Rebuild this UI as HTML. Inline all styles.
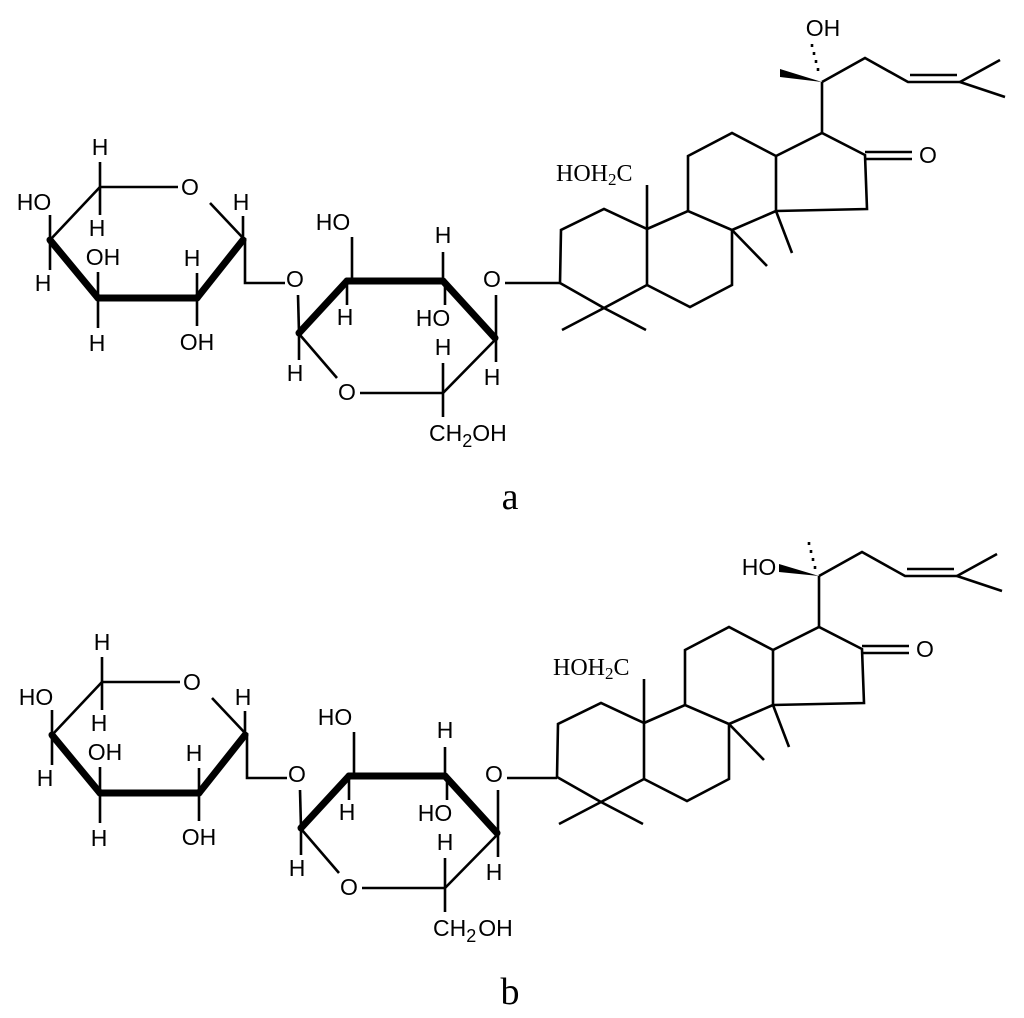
<!DOCTYPE html>
<html><head><meta charset="utf-8"><style>
html,body{margin:0;padding:0;background:#fff;}
svg{display:block}
.s{font-family:"Liberation Sans",sans-serif;font-size:23px;fill:#000;text-anchor:middle;dominant-baseline:central}
.r{font-family:"Liberation Serif",serif;fill:#000}
line,polyline{stroke:#000;stroke-width:2.6;fill:none}
.b{stroke-width:7;stroke-linecap:round}
</style></head><body>
<svg width="1024" height="1018" viewBox="0 0 1024 1018" xmlns="http://www.w3.org/2000/svg">
<g>
<line x1="100" y1="187" x2="178" y2="187"/>
<line x1="100" y1="187" x2="100" y2="162"/>
<line x1="100" y1="187" x2="100" y2="215"/>
<line x1="100" y1="187" x2="50" y2="240"/>
<line x1="50" y1="240" x2="50" y2="215"/>
<line x1="50" y1="240" x2="50" y2="270"/>
<line class="b" x1="50" y1="240" x2="98" y2="298"/>
<line class="b" x1="98" y1="298" x2="197" y2="298"/>
<line class="b" x1="197" y1="298" x2="243" y2="240"/>
<line x1="98" y1="298" x2="98" y2="272"/>
<line x1="98" y1="298" x2="98" y2="328"/>
<line x1="197" y1="298" x2="197" y2="273"/>
<line x1="197" y1="298" x2="197" y2="326"/>
<line x1="210" y1="203" x2="243" y2="238"/>
<line x1="243" y1="238" x2="243" y2="216"/>
<polyline points="245,238 245,283 285,283"/>
<line x1="298" y1="295" x2="299" y2="333"/>
<line class="b" x1="299" y1="333" x2="347" y2="281"/>
<line class="b" x1="347" y1="281" x2="443" y2="281"/>
<line class="b" x1="443" y1="281" x2="495" y2="338"/>
<line x1="352" y1="281" x2="352" y2="237"/>
<line x1="347" y1="281" x2="347" y2="305"/>
<line x1="443" y1="281" x2="443" y2="252"/>
<line x1="445" y1="281" x2="445" y2="305"/>
<line x1="496" y1="338" x2="496" y2="295"/>
<line x1="496" y1="338" x2="496" y2="362"/>
<line x1="299" y1="333" x2="299" y2="360"/>
<line x1="300" y1="335" x2="337" y2="378"/>
<line x1="360" y1="393" x2="443" y2="393"/>
<line x1="443" y1="393" x2="495" y2="340"/>
<line x1="443" y1="393" x2="443" y2="363"/>
<line x1="443" y1="393" x2="443" y2="417"/>
<line x1="505" y1="283" x2="560" y2="283"/>
<text class="s" x="100" y="147">H</text>
<text class="s" x="190" y="187">O</text>
<text class="s" x="34" y="202">HO</text>
<text class="s" x="97" y="228">H</text>
<text class="s" x="241" y="202">H</text>
<text class="s" x="103" y="257">OH</text>
<text class="s" x="192" y="258">H</text>
<text class="s" x="43" y="283">H</text>
<text class="s" x="97" y="343">H</text>
<text class="s" x="197" y="342">OH</text>
<text class="s" x="295" y="279">O</text>
<text class="s" x="333" y="222">HO</text>
<text class="s" x="443" y="235">H</text>
<text class="s" x="492" y="279">O</text>
<text class="s" x="345" y="317">H</text>
<text class="s" x="433" y="318">HO</text>
<text class="s" x="443" y="347">H</text>
<text class="s" x="295" y="373">H</text>
<text class="s" x="492" y="377">H</text>
<text class="s" x="347" y="392">O</text>
<text class="s" style="text-anchor:start;dominant-baseline:auto" x="429" y="441">CH<tspan dy="6" font-size="18">2</tspan><tspan dy="-6">OH</tspan></text>
<polyline points="560,283 561,230 604,209 647,229 647,285 604,308 560,283"/>
<line x1="604" y1="308" x2="562" y2="330"/>
<line x1="604" y1="308" x2="646" y2="330"/>
<line x1="647" y1="229" x2="647" y2="185"/>
<polyline points="647,229 688,211 732,230 732,285 690,307 647,285"/>
<polyline points="688,211 688,156 732,133 776,156 776,211 732,230"/>
<line x1="732" y1="230" x2="767" y2="266"/>
<line x1="776" y1="211" x2="792" y2="253"/>
<polyline points="776,156 822,133 865,155 867,209 776,211"/>
<line x1="865" y1="152" x2="912" y2="152"/>
<line x1="865" y1="159" x2="912" y2="159"/>
<text class="s" x="928" y="155">O</text>
<line x1="822" y1="133" x2="822" y2="82"/>
<polyline points="822,82 865,58 908,82 960,82"/>
<line x1="910" y1="75" x2="957" y2="75"/>
<line x1="960" y1="82" x2="1000" y2="60"/>
<line x1="960" y1="82" x2="1005" y2="97"/>
<text class="r" x="556" y="181" font-size="24">HOH<tspan dy="4" font-size="17">2</tspan><tspan dy="-4">C</tspan></text>
<text class="r" x="510" y="509" font-size="38" text-anchor="middle">a</text>
<polygon points="822,82 780,69 780,77" fill="#000"/>
<g stroke="#000" stroke-width="2.5">
<line x1="818" y1="68" x2="818" y2="71"/>
<line x1="816" y1="60" x2="816" y2="63"/>
<line x1="814" y1="52" x2="814" y2="55"/>
<line x1="812" y1="44" x2="812" y2="47"/>
</g>
<text class="s" x="823" y="28">OH</text>
</g>

<g transform="translate(2,495)">
<line x1="100" y1="187" x2="178" y2="187"/>
<line x1="100" y1="187" x2="100" y2="162"/>
<line x1="100" y1="187" x2="100" y2="215"/>
<line x1="100" y1="187" x2="50" y2="240"/>
<line x1="50" y1="240" x2="50" y2="215"/>
<line x1="50" y1="240" x2="50" y2="270"/>
<line class="b" x1="50" y1="240" x2="98" y2="298"/>
<line class="b" x1="98" y1="298" x2="197" y2="298"/>
<line class="b" x1="197" y1="298" x2="243" y2="240"/>
<line x1="98" y1="298" x2="98" y2="272"/>
<line x1="98" y1="298" x2="98" y2="328"/>
<line x1="197" y1="298" x2="197" y2="273"/>
<line x1="197" y1="298" x2="197" y2="326"/>
<line x1="210" y1="203" x2="243" y2="238"/>
<line x1="243" y1="238" x2="243" y2="216"/>
<polyline points="245,238 245,283 285,283"/>
<line x1="298" y1="295" x2="299" y2="333"/>
<line class="b" x1="299" y1="333" x2="347" y2="281"/>
<line class="b" x1="347" y1="281" x2="443" y2="281"/>
<line class="b" x1="443" y1="281" x2="495" y2="338"/>
<line x1="352" y1="281" x2="352" y2="237"/>
<line x1="347" y1="281" x2="347" y2="305"/>
<line x1="443" y1="281" x2="443" y2="252"/>
<line x1="445" y1="281" x2="445" y2="305"/>
<line x1="496" y1="338" x2="496" y2="295"/>
<line x1="496" y1="338" x2="496" y2="362"/>
<line x1="299" y1="333" x2="299" y2="360"/>
<line x1="300" y1="335" x2="337" y2="378"/>
<line x1="360" y1="393" x2="443" y2="393"/>
<line x1="443" y1="393" x2="495" y2="340"/>
<line x1="443" y1="393" x2="443" y2="363"/>
<line x1="443" y1="393" x2="443" y2="417"/>
<line x1="505" y1="283" x2="555" y2="283"/>
<text class="s" x="100" y="147">H</text>
<text class="s" x="190" y="187">O</text>
<text class="s" x="34" y="202">HO</text>
<text class="s" x="97" y="228">H</text>
<text class="s" x="241" y="202">H</text>
<text class="s" x="103" y="257">OH</text>
<text class="s" x="192" y="258">H</text>
<text class="s" x="43" y="283">H</text>
<text class="s" x="97" y="343">H</text>
<text class="s" x="197" y="342">OH</text>
<text class="s" x="295" y="279">O</text>
<text class="s" x="333" y="222">HO</text>
<text class="s" x="443" y="235">H</text>
<text class="s" x="492" y="279">O</text>
<text class="s" x="345" y="317">H</text>
<text class="s" x="433" y="318">HO</text>
<text class="s" x="443" y="347">H</text>
<text class="s" x="295" y="373">H</text>
<text class="s" x="492" y="377">H</text>
<text class="s" x="347" y="392">O</text>
<text class="s" style="text-anchor:start;dominant-baseline:auto" x="431" y="441">CH<tspan dy="6" font-size="18">2</tspan><tspan dx="2" dy="-6">OH</tspan></text>
</g>
<g transform="translate(-3,494)">
<polyline points="560,283 561,230 604,209 647,229 647,285 604,308 560,283"/>
<line x1="604" y1="308" x2="562" y2="330"/>
<line x1="604" y1="308" x2="646" y2="330"/>
<line x1="647" y1="229" x2="647" y2="185"/>
<polyline points="647,229 688,211 732,230 732,285 690,307 647,285"/>
<polyline points="688,211 688,156 732,133 776,156 776,211 732,230"/>
<line x1="732" y1="230" x2="767" y2="266"/>
<line x1="776" y1="211" x2="792" y2="253"/>
<polyline points="776,156 822,133 865,155 867,209 776,211"/>
<line x1="865" y1="152" x2="912" y2="152"/>
<line x1="865" y1="159" x2="912" y2="159"/>
<text class="s" x="928" y="155">O</text>
<line x1="822" y1="133" x2="822" y2="82"/>
<polyline points="822,82 865,58 908,82 960,82"/>
<line x1="910" y1="75" x2="957" y2="75"/>
<line x1="960" y1="82" x2="1000" y2="60"/>
<line x1="960" y1="82" x2="1005" y2="97"/>
<text class="r" x="556" y="181" font-size="24">HOH<tspan dy="4" font-size="17">2</tspan><tspan dy="-4">C</tspan></text>
<polygon points="822,82 782,70 782,78" fill="#000"/>
<g stroke="#000" stroke-width="2.5">
<line x1="818" y1="72" x2="818" y2="75"/>
<line x1="816" y1="64" x2="816" y2="67"/>
<line x1="814" y1="56" x2="814" y2="59"/>
<line x1="812" y1="48" x2="812" y2="51"/>
</g>
<text class="s" x="762" y="73">HO</text>
</g>
<text class="r" x="510" y="1004" font-size="38" text-anchor="middle">b</text>
</svg>
</body></html>
